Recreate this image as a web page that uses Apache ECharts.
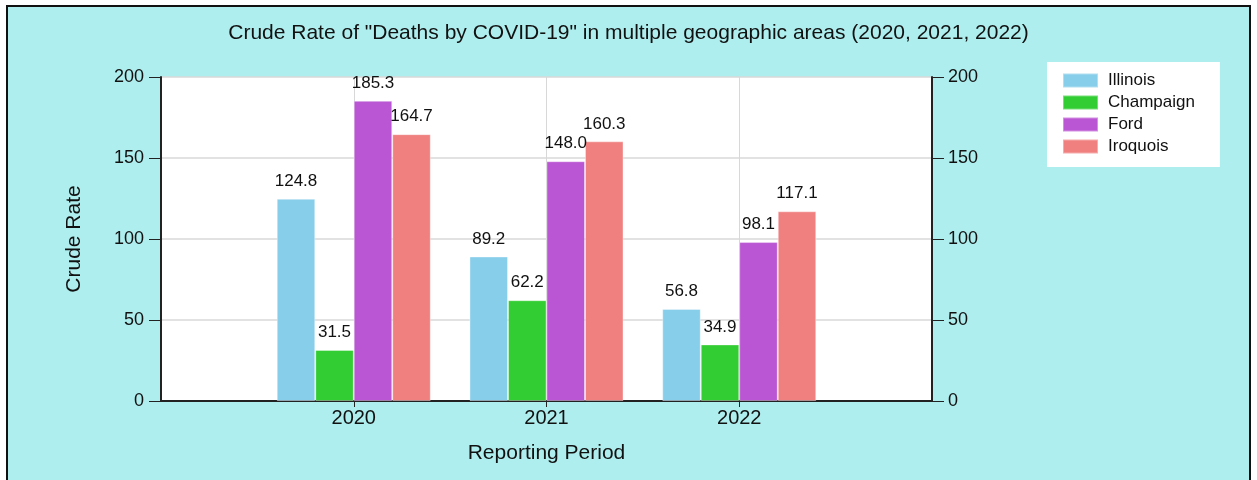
<!DOCTYPE html>
<html>
<head>
<meta charset="utf-8">
<script src="https://cdn.jsdelivr.net/npm/echarts@6/dist/echarts.min.js"></script>
<style>
html,body{margin:0;padding:0;background:#fff;}
#chart{width:1257px;height:480px;}
</style>
</head>
<body>
<div id="chart"></div>
<script>
const titleText = 'Crude Rate of "Deaths by COVID-19" in multiple geographic areas (2020, 2021, 2022)';
const categories = ['2020', '2021', '2022'];
const seriesNames = ['Illinois', 'Champaign', 'Ford', 'Iroquois'];
const illinois = [124.8, 89.2, 56.8];
const champaign = [31.5, 62.2, 34.9];
const ford = [185.3, 148.0, 98.1];
const iroquois = [164.7, 160.3, 117.1];
const yTicks = [0, 50, 100, 150, 200];
const colors = ['#87CEEB', '#32CD32', '#BA55D3', '#F08080'];

const allValues = [illinois, champaign, ford, iroquois];
const FONT = '"Liberation Sans", Arial, sans-serif';

// one empty slot on each side of the categories, as in the original axis
const xData = [''].concat(categories, ['']);

const chart = echarts.init(document.getElementById('chart'));
chart.setOption({
  backgroundColor: '#AFEEEE',
  animation: false,
  textStyle: {fontFamily: FONT},
  title: {
    text: titleText,
    left: 'center',
    top: 23,
    padding: 0,
    textStyle: {fontSize: 21, fontWeight: 'normal', color: '#111', fontFamily: FONT}
  },
  legend: {
    orient: 'vertical',
    left: 1047,
    top: 62,
    padding: [10, 25, 12, 15],
    backgroundColor: '#ffffff',
    itemWidth: 35,
    itemHeight: 14,
    itemGap: 5,
    icon: 'rect',
    data: seriesNames,
    textStyle: {fontSize: 17, color: '#111', fontFamily: FONT, lineHeight: 17, padding: [0, 0, 0, 5]}
  },
  grid: {
    left: 161, right: 325, top: 77, bottom: 79,
    show: true, backgroundColor: '#ffffff', borderWidth: 0,
    containLabel: false
  },
  xAxis: {
    type: 'category',
    data: xData,
    boundaryGap: false,
    name: 'Reporting Period',
    nameLocation: 'middle',
    nameGap: 42,
    nameTextStyle: {fontSize: 21, color: '#111', fontFamily: FONT},
    axisLine: {lineStyle: {color: '#222', width: 2}},
    axisTick: {show: true, length: 6, lineStyle: {color: '#222'},
      interval: function (i, v) { return v !== ''; }},
    axisLabel: {fontSize: 20, color: '#111', margin: 7, interval: 0, fontFamily: FONT},
    splitLine: {show: true, lineStyle: {color: '#d8d8d8', width: 1},
      interval: function (i, v) { return v !== ''; }}
  },
  yAxis: [{
    type: 'value',
    min: yTicks[0], max: yTicks[yTicks.length - 1], interval: yTicks[1] - yTicks[0],
    name: 'Crude Rate',
    nameLocation: 'middle',
    nameGap: 76,
    nameTextStyle: {fontSize: 21, color: '#111', fontFamily: FONT},
    axisLine: {show: true, lineStyle: {color: '#222', width: 2}},
    axisTick: {show: true, length: 12, lineStyle: {color: '#222'}},
    axisLabel: {fontSize: 18, color: '#111', margin: 17, fontFamily: FONT},
    splitLine: {show: true, lineStyle: {color: '#d8d8d8', width: 1.5}}
  }, {
    type: 'value',
    position: 'right',
    min: yTicks[0], max: yTicks[yTicks.length - 1], interval: yTicks[1] - yTicks[0],
    axisLine: {show: true, lineStyle: {color: '#222', width: 2}},
    axisTick: {show: true, length: 12, lineStyle: {color: '#222'}},
    axisLabel: {fontSize: 18, color: '#111', margin: 16, fontFamily: FONT},
    splitLine: {show: false}
  }],
  series: seriesNames.map(function (name, k) {
    return {
      name: name,
      type: 'bar',
      yAxisIndex: 0,
      barWidth: 38.5,
      barGap: '0%',
      data: ['-'].concat(allValues[k], ['-']),
      itemStyle: {color: colors[k], borderColor: 'rgba(255,255,255,0.35)', borderWidth: 1},
      label: {
        show: true,
        position: 'top',
        distance: 9,
        fontSize: 17,
        color: '#111',
        fontFamily: FONT,
        formatter: function (p) { return Number(p.value).toFixed(1); }
      }
    };
  }),
  graphic: [
    {type: 'rect', silent: true, z: 100, shape: {x: 0, y: 0, width: 1257, height: 5}, style: {fill: '#fff'}},
    {type: 'rect', silent: true, z: 100, shape: {x: 0, y: 0, width: 6, height: 480}, style: {fill: '#fff'}},
    {type: 'rect', silent: true, z: 100, shape: {x: 1251, y: 0, width: 6, height: 480}, style: {fill: '#fff'}},
    {type: 'rect', silent: true, z: 101, shape: {x: 7, y: 6, width: 1243, height: 480}, style: {fill: null, stroke: '#111', lineWidth: 2}}
  ]
});
</script>
</body>
</html>
